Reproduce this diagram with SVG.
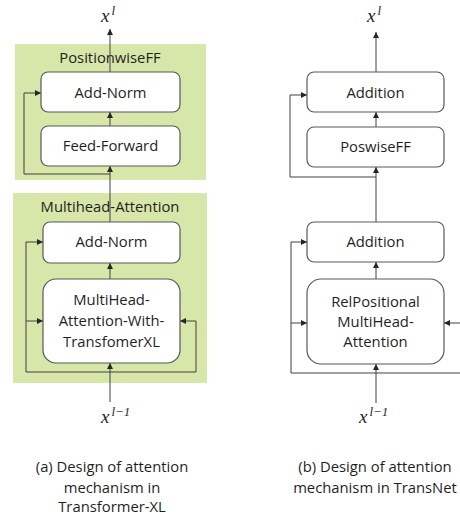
<svg xmlns="http://www.w3.org/2000/svg" width="460" height="515" viewBox="0 0 460 515">
<style>
.bg{fill:#d7e6a9;stroke:none}
.box{fill:#ffffff;stroke:#595959;stroke-width:1.2}
.t{font-family:"Open Sans","Noto Sans",sans-serif;font-size:14.8px;fill:#1f1f1f;text-anchor:middle}
.m{font-family:"Liberation Serif","DejaVu Serif",serif;font-style:italic;fill:#262626}
.c{fill:none;stroke:#404040;stroke-width:1}
.a{marker-end:url(#ah)}
</style>
<defs>
<marker id="ah" viewBox="0 0 6 6" refX="6" refY="3" markerWidth="6" markerHeight="6" markerUnits="userSpaceOnUse" orient="auto">
<path d="M0,0 L6,3 L0,6 z" fill="#262626"/>
</marker>
</defs>
<rect width="460" height="515" fill="#ffffff"/>
<g id="groupFF">
<rect class="bg" x="15" y="44" width="191" height="136"/>
<text class="t" x="110" y="63">PositionwiseFF</text>
</g>
<g id="groupMHA">
<rect class="bg" x="13" y="193" width="194" height="190"/>
<text class="t" x="110" y="212">Multihead-Attention</text>
</g>
<g id="connectors">
<path class="c a" d="M110,72 V29"/>
<path class="c a" d="M110,126 V112"/>
<path class="c a" d="M110,222 V166"/>
<path class="c a" d="M110,174 H24 V93 H41"/>
<path class="c a" d="M110,279 V263"/>
<path class="c a" d="M110,402 V363"/>
<path class="c a" d="M110,372 H26 V242 H43"/>
<path class="c a" d="M26,321 H43"/>
<path class="c a" d="M110,372 H196 V321 H180"/>
<path class="c a" d="M376,72 V32"/>
<path class="c a" d="M376,127 V112"/>
<path class="c a" d="M376,222 V167"/>
<path class="c a" d="M376,177 H290 V95 H307"/>
<path class="c a" d="M376,279 V262"/>
<path class="c a" d="M376,403 V364"/>
<path class="c a" d="M376,373 H291 V242 H307"/>
<path class="c a" d="M291,323 H307"/>
<path class="c a" d="M376,373 H464 V323 H444"/>
</g>
<g id="addnorm1">
<rect class="box" x="41" y="72" width="139" height="40" rx="7"/>
<text class="t" x="110.5" y="98">Add-Norm</text>
</g>
<g id="feedforward">
<rect class="box" x="41" y="126" width="139" height="40" rx="7"/>
<text class="t" x="110.5" y="151">Feed-Forward</text>
</g>
<g id="addnorm2">
<rect class="box" x="43" y="222" width="137" height="41" rx="7"/>
<text class="t" x="111.5" y="247">Add-Norm</text>
</g>
<g id="mha">
<rect class="box" x="43" y="279" width="137" height="84" rx="13"/>
<text class="t" x="111.5" y="305">MultiHead-</text>
<text class="t" x="111.5" y="326">Attention-With-</text>
<text class="t" x="111.5" y="347">TransfomerXL</text>
</g>
<g id="addition1">
<rect class="box" x="307" y="72" width="137" height="40" rx="7"/>
<text class="t" x="375.5" y="98">Addition</text>
</g>
<g id="poswiseff">
<rect class="box" x="307" y="127" width="137" height="40" rx="7"/>
<text class="t" x="375.5" y="152">PoswiseFF</text>
</g>
<g id="addition2">
<rect class="box" x="307" y="222" width="137" height="40" rx="7"/>
<text class="t" x="375.5" y="247">Addition</text>
</g>
<g id="relpos">
<rect class="box" x="307" y="279" width="137" height="85" rx="14"/>
<text class="t" x="375.5" y="307">RelPositional</text>
<text class="t" x="375.5" y="327">MultiHead-</text>
<text class="t" x="375.5" y="347">Attention</text>
</g>
<g id="labels">
<text class="m" x="101" y="22" font-size="19">x<tspan font-size="13" dx="2" dy="-7">l</tspan></text>
<text class="m" x="101" y="423" font-size="19">x<tspan font-size="13" dx="2" dy="-7">l−1</tspan></text>
<text class="m" x="367" y="22" font-size="19">x<tspan font-size="13" dx="2" dy="-7">l</tspan></text>
<text class="m" x="359" y="423" font-size="19">x<tspan font-size="13" dx="2" dy="-7">l−1</tspan></text>
</g>
<g id="captions">
<text class="t" x="112" y="472">(a) Design of attention</text>
<text class="t" x="112" y="493">mechanism in</text>
<text class="t" x="112" y="512">Transformer-XL</text>
<text class="t" x="375" y="472">(b) Design of attention</text>
<text class="t" x="375" y="493">mechanism in TransNet</text>
</g>
</svg>
